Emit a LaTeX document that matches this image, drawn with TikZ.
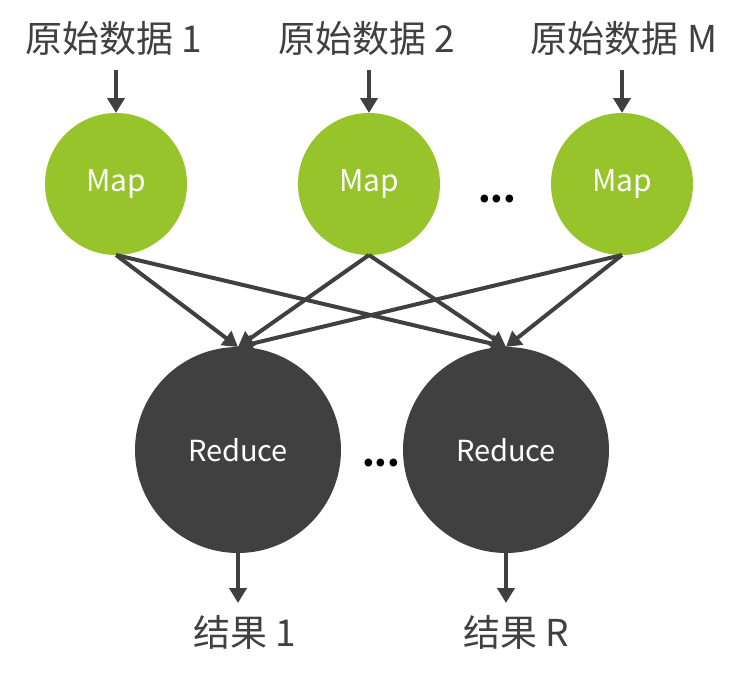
\documentclass[tikz,border=0pt]{standalone}
\usepackage{fontspec}
\setmainfont{Noto Sans CJK SC}
\usetikzlibrary{arrows.meta}
\definecolor{mgreen}{HTML}{97C42A}
\definecolor{dgray}{HTML}{404040}
\begin{document}
\begin{tikzpicture}[x=1pt,y=-1pt,
  mapnode/.style={circle,fill=mgreen,minimum size=142pt,inner sep=0,outer sep=0,text=white,font=\fontsize{30}{36}\selectfont},
  rednode/.style={circle,fill=dgray,minimum size=206pt,inner sep=0,outer sep=0,text=white,font=\fontsize{29}{34}\selectfont},
  lbl/.style={inner sep=0,outer sep=0,text=dgray,font=\fontsize{37}{42}\selectfont,anchor=base},
  dots/.style={inner sep=0,text=black,font=\fontsize{36}{40}\selectfont\bfseries,anchor=base},
  arr/.style={draw=dgray,line width=4pt,-{Triangle[length=15pt,width=17pt]}}]
\useasboundingbox (0,0) rectangle (748,681);
\node[lbl] (l1) at (114,52) {原始数据 1};
\node[lbl] (l2) at (367,52) {原始数据 2};
\node[lbl] (l3) at (624,52) {原始数据 M};
\node[mapnode] (m1) at (116,184) {Map};
\node[mapnode] (m2) at (369,184) {Map};
\node[mapnode] (m3) at (622,184) {Map};
\node[dots] (d1) at (497,202) {...};
\node[rednode] (r1) at (238,450) {Reduce};
\node[rednode] (r2) at (506,450) {Reduce};
\node[dots] (d2) at (381,466) {...};
\node[lbl] (o1) at (245,646) {结果 1};
\node[lbl] (o2) at (516,646) {结果 R};
\coordinate (a1) at (116,70);
\coordinate (a2) at (369,70);
\coordinate (a3) at (622,70);
\coordinate (b1) at (238,603);
\coordinate (b2) at (506,603);
\draw[arr] (a1) -- (m1.north);
\draw[arr] (a2) -- (m2.north);
\draw[arr] (a3) -- (m3.north);
\foreach \m in {m1,m2,m3}{
  \draw[arr] (\m.south) -- (r1.north);
  \draw[arr] (\m.south) -- (r2.north);
}
\draw[arr] (r1.south) -- (b1);
\draw[arr] (r2.south) -- (b2);
\end{tikzpicture}
\end{document}
